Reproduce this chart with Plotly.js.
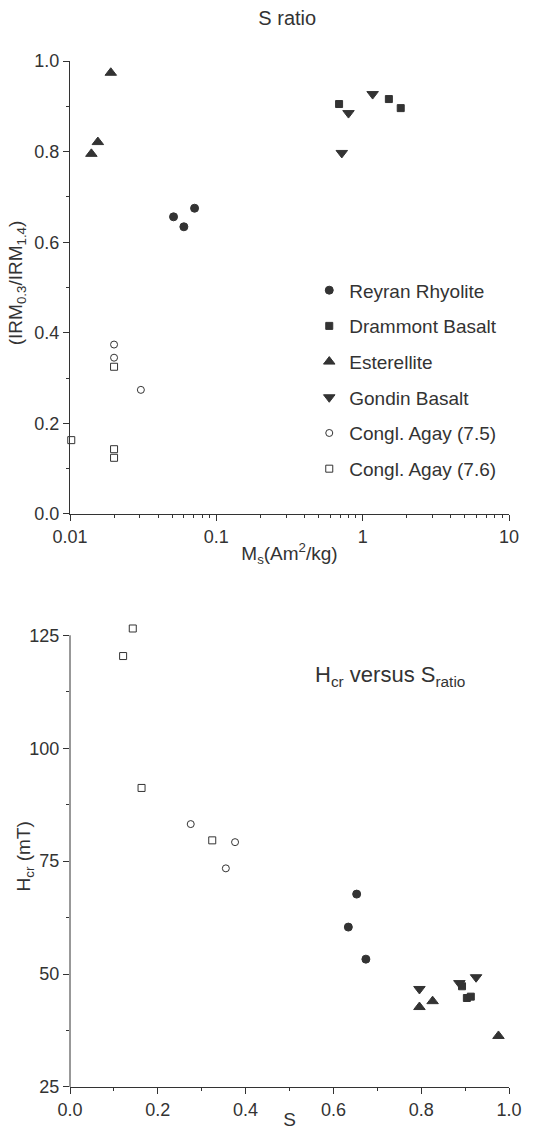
<!DOCTYPE html>
<html>
<head>
<meta charset="utf-8">
<script src="https://cdn.plot.ly/plotly-3.0.1.min.js"></script>
<style>html,body{margin:0;padding:0;background:#fff}#chart{width:540px;height:1130px}</style>
</head>
<body>
<div id="chart"></div>
<script>
// Series names
const seriesNames = ["Reyran Rhyolite", "Drammont Basalt", "Esterellite", "Gondin Basalt", "Congl. Agay (7.5)", "Congl. Agay (7.6)"];

// Top panel: Ms (Am2/kg) vs S ratio
const ms_reyran = [0.051, 0.060, 0.071];
const s_reyran = [0.656, 0.634, 0.675];
const ms_drammont = [0.69, 1.51, 1.82];
const s_drammont = [0.905, 0.916, 0.896];
const ms_esterellite = [0.014, 0.0155, 0.019];
const s_esterellite = [0.795, 0.821, 0.974];
const ms_gondin = [0.80, 1.17, 0.72];
const s_gondin = [0.885, 0.927, 0.797];
const ms_agay75 = [0.020, 0.020, 0.0305];
const s_agay75 = [0.374, 0.345, 0.274];
const ms_agay76 = [0.0102, 0.020, 0.020, 0.020];
const s_agay76 = [0.163, 0.325, 0.143, 0.124];

// Bottom panel: S vs Hcr (mT)
const S_reyran = [0.653, 0.634, 0.674];
const hcr_reyran = [67.7, 60.4, 53.3];
const S_drammont = [0.893, 0.904, 0.913];
const hcr_drammont = [47.3, 44.7, 45.0];
const S_esterellite = [0.796, 0.826, 0.976];
const hcr_esterellite = [42.7, 44.0, 36.3];
const S_gondin = [0.887, 0.925, 0.796];
const hcr_gondin = [48.0, 49.3, 46.7];
const S_agay75 = [0.275, 0.376, 0.355];
const hcr_agay75 = [83.2, 79.2, 73.4];
const S_agay76 = [0.143, 0.121, 0.163, 0.324];
const hcr_agay76 = [126.5, 120.4, 91.2, 79.6];

const ink = "#333333";
const styles = [
  {symbol: "circle", size: 8},
  {symbol: "square", size: 7},
  {symbol: "triangle-up", size: 10},
  {symbol: "triangle-down", size: 10},
  {symbol: "circle-open", size: 7},
  {symbol: "square-open", size: 7}
];
const topX = [ms_reyran, ms_drammont, ms_esterellite, ms_gondin, ms_agay75, ms_agay76];
const topY = [s_reyran, s_drammont, s_esterellite, s_gondin, s_agay75, s_agay76];
const botX = [S_reyran, S_drammont, S_esterellite, S_gondin, S_agay75, S_agay76];
const botY = [hcr_reyran, hcr_drammont, hcr_esterellite, hcr_gondin, hcr_agay75, hcr_agay76];

const traces = [];
seriesNames.forEach((name, i) => {
  const mk = {symbol: styles[i].symbol, size: styles[i].size, color: ink, line: {color: ink, width: 1}};
  traces.push({type: "scatter", mode: "markers", name: name, x: topX[i], y: topY[i],
    xaxis: "x", yaxis: "y", marker: mk, legendgroup: "g" + i, cliponaxis: false, hoverinfo: "skip"});
  traces.push({type: "scatter", mode: "markers", name: name, x: botX[i], y: botY[i],
    xaxis: "x2", yaxis: "y2", marker: mk, legendgroup: "g" + i, showlegend: false, cliponaxis: false, hoverinfo: "skip"});
});

const font = {family: "Liberation Sans, Arial, sans-serif", size: 18, color: ink};
const axBase = {
  showline: true, linecolor: ink, linewidth: 1, mirror: false,
  ticks: "outside", ticklen: 6, tickwidth: 1, tickcolor: ink,
  showgrid: false, zeroline: false, tickfont: {size: 18, color: ink}
};

const layout = {
  width: 540, height: 1130,
  paper_bgcolor: "#ffffff", plot_bgcolor: "#ffffff",
  font: font,
  margin: {l: 70, r: 31, t: 61, b: 43},
  title: {text: "S ratio", font: {size: 20, color: ink}, x: 0.532, xanchor: "center", y: 0.984, yanchor: "middle"},
  showlegend: true,
  legend: {x: 0.545, y: 0.795, xanchor: "left", yanchor: "top", font: {size: 19, color: ink},
    bgcolor: "rgba(0,0,0,0)", tracegroupgap: 8, itemwidth: 30},
  xaxis: Object.assign({}, axBase, {
    type: "log", range: [-2, 1], dtick: 1, domain: [0, 1], anchor: "y",
    minor: {ticks: "outside", ticklen: 3, tickcolor: ink, dtick: "D1", showgrid: false},
    title: {text: "M<sub>s</sub>(Am<sup>2</sup>/kg)", font: {size: 19, color: ink}, standoff: 1}
  }),
  yaxis: Object.assign({}, axBase, {
    range: [0, 1.0], dtick: 0.2, tickformat: ".1f", domain: [0.5585, 1], anchor: "x",
    minor: {ticks: "outside", ticklen: 3, tickcolor: ink, dtick: 0.1, showgrid: false}
  }),
  xaxis2: Object.assign({}, axBase, {
    range: [0, 1.0], dtick: 0.2, tickformat: ".1f", domain: [0, 1], anchor: "y2",
    minor: {ticks: "outside", ticklen: 3, tickcolor: ink, dtick: 0.1, showgrid: false},
    title: {text: "S", font: {size: 19, color: ink}, standoff: 1}
  }),
  yaxis2: Object.assign({}, axBase, {
    range: [25, 127.5], tickvals: [25, 50, 75, 100, 125], domain: [0, 0.4513], anchor: "x2",
    showline: false,
    minor: {ticks: "outside", ticklen: 3, tickcolor: ink, tickvals: [37.5, 62.5, 87.5, 112.5], showgrid: false}
  }),
  shapes: [{
    type: "line", xref: "x2 domain", yref: "y2", x0: 0, x1: 0, y0: 25, y1: 125,
    line: {color: ink, width: 1}, layer: "above"
  }],
  annotations: [
    {text: "H<sub>cr</sub> versus S<sub>ratio</sub>", xref: "x2", yref: "y2", x: 0.73, y: 116,
     xanchor: "center", yanchor: "middle", showarrow: false, font: {size: 22, color: ink}},
    {text: "(IRM<sub>0.3</sub>/IRM<sub>1.4</sub>)", xref: "paper", yref: "y", x: -0.12, xshift: 0,
     y: 0.51, textangle: -90, xanchor: "center", yanchor: "middle", showarrow: false, font: {size: 19, color: ink}},
    {text: "H<sub>cr</sub> (mT)", xref: "paper", yref: "y2", x: -0.103, y: 76,
     textangle: -90, xanchor: "center", yanchor: "middle", showarrow: false, font: {size: 19, color: ink}}
  ]
};

Plotly.newPlot("chart", traces, layout, {staticPlot: true, displayModeBar: false});
</script>
</body>
</html>
